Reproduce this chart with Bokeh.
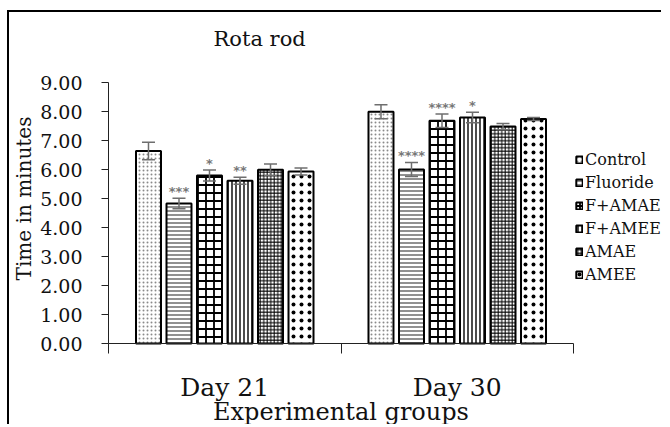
from bokeh.plotting import figure
from bokeh.models import (Range1d, FixedTicker, Whisker, ColumnDataSource, Legend,
                          LegendItem, TeeHead, NumeralTickFormatter, Label)
from bokeh.core.properties import value
from bokeh.embed import file_html
from bokeh.resources import INLINE

# ---- data ----
title = "Rota rod"
days = ["Day 21", "Day 30"]
groups = ["Control", "Fluoride", "F+AMAE", "F+AMEE", "AMAE", "AMEE"]
control = [6.64, 7.99]
fluoride = [4.83, 6.00]
f_amae = [5.79, 7.68]
f_amee = [5.61, 7.79]
amae = [5.99, 7.48]
amee = [5.93, 7.74]
control_se = [0.30, 0.24]
fluoride_se = [0.18, 0.24]
f_amae_se = [0.19, 0.23]
f_amee_se = [0.12, 0.18]
amae_se = [0.20, 0.11]
amee_se = [0.12, 0.05]
control_sig = ["", ""]
fluoride_sig = ["***", "****"]
f_amae_sig = ["*", "****"]
f_amee_sig = ["**", "*"]
amae_sig = ["", ""]
amee_sig = ["", ""]
y_ticks = [0, 1, 2, 3, 4, 5, 6, 7, 8, 9]
y_max = 9

values = [control, fluoride, f_amae, f_amee, amae, amee]
errors = [control_se, fluoride_se, f_amae_se, f_amee_se, amae_se, amee_se]
sigs = [control_sig, fluoride_sig, f_amae_sig, f_amee_sig, amae_sig, amee_sig]

# ---- layout (pixels) ----
W, H = 654, 414
LEFT, TOP = 99, 70                 # where the visible axes start inside the canvas
AXIS_W, AXIS_H = 465, 261          # pixel span of the visible axes
ppx = AXIS_W / len(days)
ppy = AXIS_H / y_max
x_start = -LEFT / ppx
x_end = (W - LEFT) / ppx
y_start = y_max - (H - TOP) / ppy
y_end = y_max + TOP / ppy

SERIF = "DejaVu Serif"
TXT = "#111111"
styles = [
    dict(hatch_pattern="dot", hatch_scale=4, hatch_weight=1, hatch_color="#8a8a8a"),
    dict(hatch_pattern="horizontal_line", hatch_scale=4, hatch_weight=1.3, hatch_color="#555555"),
    dict(hatch_pattern="cross", hatch_scale=8, hatch_weight=1.8, hatch_color="#000000"),
    dict(hatch_pattern="vertical_line", hatch_scale=4, hatch_weight=1.4, hatch_color="#000000"),
    dict(hatch_pattern="cross", hatch_scale=3.5, hatch_weight=1, hatch_color="#000000"),
    dict(hatch_pattern="dot", hatch_scale=8, hatch_weight=3.5, hatch_color="#000000"),
]

pitch = 0.1312
bar_w = 0.1075

p = figure(width=W, height=H, x_range=Range1d(x_start, x_end), y_range=Range1d(y_start, y_end),
           output_backend="svg", toolbar_location=None,
           min_border_left=0, min_border_right=0, min_border_top=0, min_border_bottom=0)
p.title.visible = False
p.outline_line_color = None
p.xgrid.visible = False
p.ygrid.visible = False
p.background_fill_color = "white"
p.border_fill_color = "white"
p.styles = {"border-left": "2px solid black", "border-top": "2px solid black",
            "margin-left": "7px", "margin-top": "10px"}

# title
p.add_layout(Label(x=204, y=388, x_units="screen", y_units="screen",
                   text=title, text_align="left", text_baseline="middle",
                   text_font=SERIF, text_font_size="21px", text_color=TXT))

legend_items = []
for i, (g, vals, errs, sg, st) in enumerate(zip(groups, values, errors, sigs, styles)):
    xs = [d + 0.5 + (i - 2.5) * pitch for d in range(len(days))]
    src = ColumnDataSource(dict(
        x=xs, top=vals,
        upper=[v + e for v, e in zip(vals, errs)],
        lower=[v - e for v, e in zip(vals, errs)],
        sig=sg))
    r = p.vbar(x="x", top="top", width=bar_w, bottom=0, source=src,
               fill_color="white", line_color="black", line_width=2, **st)
    w = Whisker(source=src, base="x", upper="upper", lower="lower",
                line_color="#6e6e6e", line_width=1.5, level="overlay",
                upper_head=TeeHead(size=13, line_color="#6e6e6e", line_width=1.5),
                lower_head=TeeHead(size=13, line_color="#6e6e6e", line_width=1.5))
    p.add_layout(w)
    p.text(x="x", y="upper", text="sig", source=src, text_font=value("DejaVu Sans"),
           text_font_size="13px", text_font_style="bold", text_color="#777777",
           text_align="center", text_baseline="middle", y_offset=-7)
    legend_items.append(LegendItem(label=g, renderers=[r]))

legend = Legend(items=legend_items, location=(566, 142), orientation="vertical",
                label_text_font=SERIF, label_text_font_size="16px", label_text_color=TXT,
                glyph_width=8, glyph_height=9, label_standoff=2, padding=0, margin=0,
                spacing=4, label_height=16, border_line_color=None,
                background_fill_alpha=0)
p.add_layout(legend)

# y axis, fixed at x = 0 inside the frame
p.yaxis.fixed_location = 0
p.yaxis.bounds = (0, y_max)
p.yaxis.ticker = FixedTicker(ticks=y_ticks)
p.yaxis.formatter = NumeralTickFormatter(format="0.00")
p.yaxis.major_tick_out = 7
p.yaxis.major_tick_in = 0
p.yaxis.minor_tick_line_color = None
p.yaxis.major_label_standoff = 19
p.yaxis.major_label_text_font = SERIF
p.yaxis.major_label_text_font_size = "19px"
p.yaxis.major_label_text_color = TXT
p.yaxis.axis_line_color = "#222222"
p.yaxis.major_tick_line_color = "#222222"

p.add_layout(Label(x=14, y=228, x_units="screen", y_units="screen", angle=90, angle_units="deg",
                   text="Time in minutes", text_align="center", text_baseline="middle",
                   text_font=SERIF, text_font_size="20px", text_color=TXT))

# x axis, fixed at y = 0 inside the frame
p.xaxis.fixed_location = 0
p.xaxis.bounds = (0, len(days))
p.xaxis.ticker = FixedTicker(ticks=[0.5, 1.5], minor_ticks=[0, 1, 2])
p.xaxis.major_label_overrides = {0.5: days[0], 1.5: days[1]}
p.xaxis.major_tick_out = 0
p.xaxis.major_tick_in = 0
p.xaxis.minor_tick_out = 10
p.xaxis.minor_tick_in = 0
p.xaxis.minor_tick_line_color = "#222222"
p.xaxis.axis_line_color = "#222222"
p.xaxis.major_label_standoff = 19
p.xaxis.major_label_text_font = SERIF
p.xaxis.major_label_text_font_size = "25px"
p.xaxis.major_label_text_color = TXT

p.add_layout(Label(x=len(days) / 2, y=15, x_units="data", y_units="screen",
                   text="Experimental groups", text_align="center", text_baseline="middle",
                   text_font=SERIF, text_font_size="24px", text_color=TXT))

open("out.html", "w").write(file_html(p, INLINE))
